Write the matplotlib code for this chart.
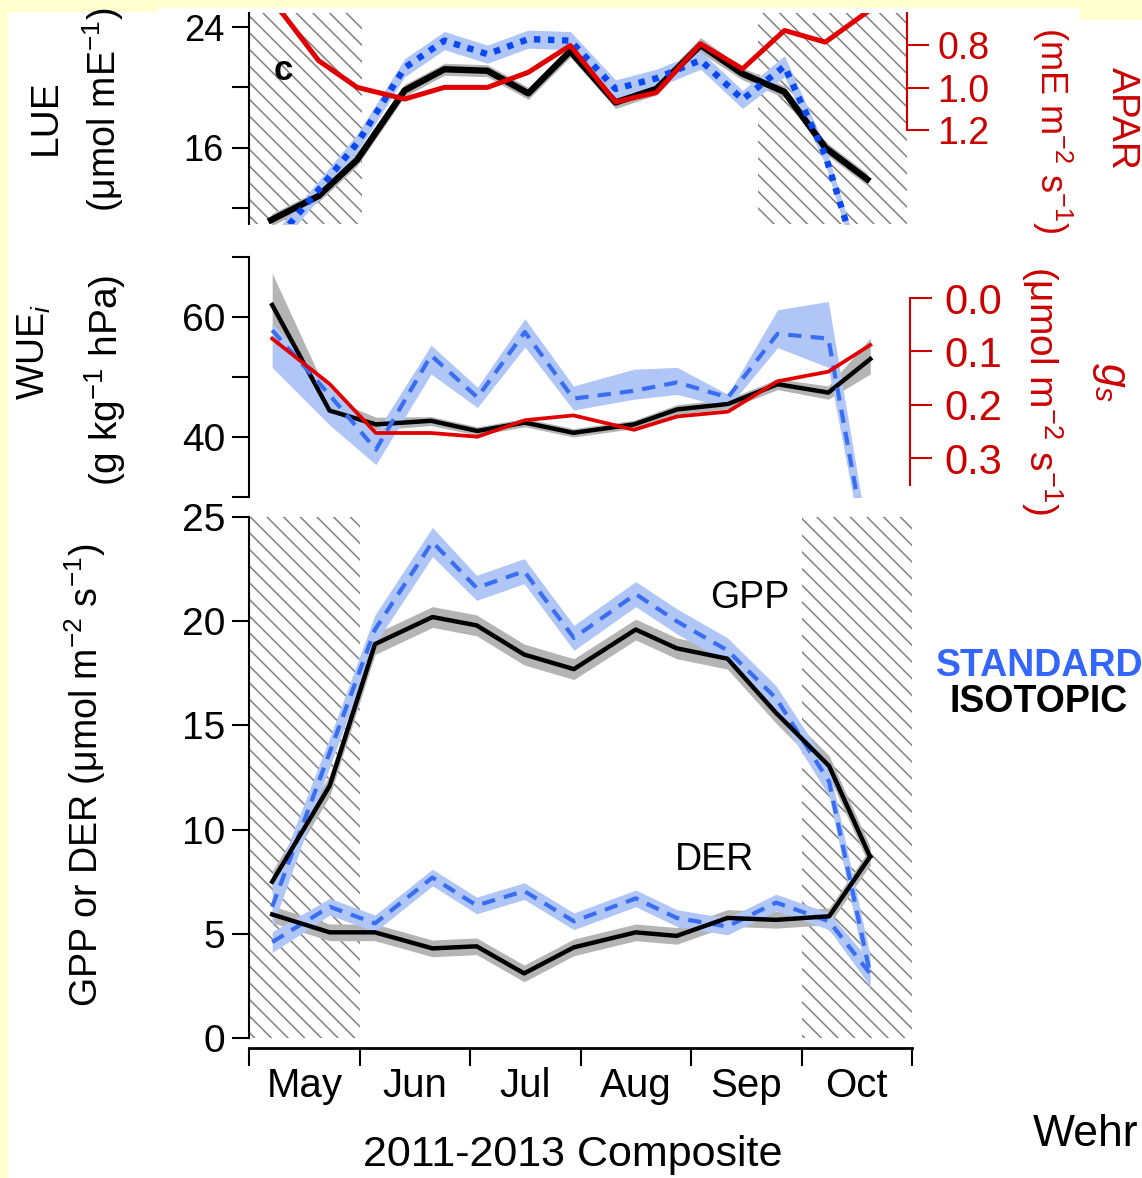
import matplotlib
matplotlib.use("Agg")
import matplotlib.pyplot as plt
from matplotlib.patches import Rectangle

plt.rcParams['font.family'] = ['Liberation Sans', 'DejaVu Sans']
plt.rcParams['mathtext.fontset'] = 'custom'
plt.rcParams['mathtext.rm'] = 'Liberation Sans'
plt.rcParams['mathtext.it'] = 'Liberation Sans:italic'
plt.rcParams['hatch.linewidth'] = 1.1
plt.rcParams['hatch.color'] = '#808080'

# ---- data (x in months after 1 May) ----
months = ['May', 'Jun', 'Jul', 'Aug', 'Sep', 'Oct']

# panel c: LUE and APAR
lue_t = [0.20, 0.63, 0.98, 1.41, 1.77, 2.16, 2.53, 2.91, 3.32, 3.69, 4.09, 4.47, 4.85, 5.22, 5.60]
lue_iso = [11.2, 12.8, 15.2, 19.8, 21.2, 21.1, 19.6, 22.4, 19.0, 19.9, 22.8, 20.9, 19.7, 16.0, 13.9]
lue_iso_err = [0.4, 0.4, 0.4, 0.4, 0.4, 0.4, 0.4, 0.4, 0.4, 0.4, 0.5, 0.4, 0.4, 0.4, 0.4]
lue_std = [9.5, 13.2, 16.3, 21.3, 23.1, 22.2, 23.2, 23.1, 19.9, 20.6, 21.8, 19.2, 21.4, 15.5, 6.5]
lue_std_err = [0.6, 0.6, 0.6, 0.6, 0.6, 0.6, 0.6, 0.6, 0.6, 0.6, 0.6, 0.6, 0.7, 0.6, 0.6]
apar = [0.58, 0.873, 0.999, 1.054, 0.999, 0.999, 0.928, 0.802, 1.068, 1.023, 0.794, 0.912, 0.731, 0.786, 0.644]

# WUEi and gs
wue_t = [0.21, 0.73, 1.15, 1.65, 2.07, 2.50, 2.94, 3.49, 3.88, 4.34, 4.79, 5.25, 5.63]
wue_iso = [62.0, 44.4, 42.1, 42.7, 41.0, 42.4, 40.7, 42.1, 44.6, 45.5, 48.8, 47.4, 53.0]
wue_iso_lo = [57.5, 43.0, 41.2, 41.9, 40.3, 41.7, 40.0, 41.4, 43.8, 44.7, 47.9, 46.3, 50.5]
wue_iso_hi = [67.3, 46.5, 43.3, 43.4, 41.7, 43.1, 41.4, 42.8, 45.4, 46.3, 49.7, 48.5, 56.5]
wue_std = [57.8, 47.0, 37.9, 53.6, 46.6, 57.5, 46.4, 47.7, 49.1, 46.6, 57.2, 56.4, 18.0]
wue_std_lo = [51.6, 42.0, 35.4, 50.5, 44.9, 55.0, 44.5, 46.3, 47.1, 44.9, 54.9, 51.6, 15.0]
wue_std_hi = [59.0, 48.3, 40.7, 55.3, 48.3, 59.7, 48.5, 51.3, 51.6, 47.1, 61.2, 62.6, 21.0]
gs = [0.076, 0.161, 0.253, 0.253, 0.260, 0.229, 0.220, 0.247, 0.222, 0.213, 0.156, 0.138, 0.088]

# GPP and DER
flux_t = [0.21, 0.73, 1.14, 1.66, 2.06, 2.49, 2.94, 3.50, 3.87, 4.33, 4.77, 5.25, 5.62]
gpp_iso = [7.5, 12.1, 18.9, 20.2, 19.8, 18.4, 17.7, 19.6, 18.7, 18.2, 15.6, 13.05, 8.7]
gpp_std = [6.3, 13.7, 19.6, 23.8, 21.6, 22.4, 19.2, 21.3, 20.0, 18.6, 16.3, 12.3, 3.1]
der_iso = [5.93, 5.07, 5.07, 4.3, 4.4, 3.1, 4.35, 5.07, 4.9, 5.76, 5.67, 5.84, 8.7]
der_std = [4.6, 6.3, 5.5, 7.7, 6.36, 7.05, 5.6, 6.7, 5.76, 5.35, 6.5, 5.6, 3.1]
gpp_iso_err = [0.5, 0.5, 0.5, 0.5, 0.5, 0.5, 0.5, 0.5, 0.5, 0.5, 0.5, 0.5, 0.5]
gpp_std_err = [1.0, 0.7, 0.7, 0.7, 0.6, 0.6, 0.6, 0.6, 0.6, 0.6, 0.6, 0.7, 0.9]
der_iso_err = [0.4, 0.4, 0.4, 0.4, 0.4, 0.4, 0.4, 0.4, 0.4, 0.4, 0.4, 0.4, 0.4]
der_std_err = [0.5, 0.4, 0.4, 0.4, 0.4, 0.4, 0.4, 0.4, 0.4, 0.4, 0.4, 0.4, 0.6]

RED = '#e00000'
RED_TXT = '#cc0000'
BLUE = '#3a6ef0'
BLUE_DOT = '#0a48f0'
BAND_B = '#afc6f7'
BAND_G = '#b4b4b4'

W, H = 1142, 1178
fig = plt.figure(figsize=(W / 100, H / 100), dpi=100, facecolor='#ffffd0')


def sheet(x0, y0, x1, y1):
    # white pieces pasted on the yellow slide (pixel coords from top-left)
    fig.patches.append(Rectangle((x0 / W, 1 - y1 / H), (x1 - x0) / W, (y1 - y0) / H,
                                 transform=fig.transFigure, facecolor='white',
                                 edgecolor='none', zorder=-10))


sheet(8, 12, 1080, 1178)
sheet(158, 8, 1080, 12)
sheet(1080, 20, 1142, 1178)


def box(x0, y0, x1, y1):
    return [x0 / W, 1 - y1 / H, (x1 - x0) / W, (y1 - y0) / H]


def band(ax, t, y, err, color):
    lo = [a - e for a, e in zip(y, err)]
    hi = [a + e for a, e in zip(y, err)]
    ax.fill_between(t, lo, hi, color=color, lw=0)


def hatch(ax, a, b):
    ax.axvspan(a, b, facecolor='none', edgecolor='#808080', hatch='\\\\', lw=0, zorder=0)


def clean(ax):
    for s in ['top', 'right', 'bottom']:
        ax.spines[s].set_visible(False)
    ax.spines['left'].set_linewidth(1.5)
    ax.set_xticks([])
    ax.patch.set_alpha(0)


def red_axis(ax, lo, hi, top, bot, ticks, size, pad):
    for s in ['top', 'left', 'bottom']:
        ax.spines[s].set_visible(False)
    ax.spines['right'].set_color(RED_TXT)
    ax.spines['right'].set_linewidth(1.5)
    ax.set_ylim(lo, hi)
    ax.spines['right'].set_bounds(top, bot)
    ax.set_yticks(ticks, labels=['%.1f' % v for v in ticks])
    ax.tick_params(axis='y', direction='out', length=16, width=1.5, labelsize=size,
                   colors=RED_TXT, pad=pad)


# ---------------- panel c: LUE ----------------
ax1 = fig.add_axes(box(249, 13, 907, 224))
clean(ax1)
ax1.set_xlim(0, 5.96)
ax1.set_ylim(10.94, 24.93)
hatch(ax1, 0, 1.02)
hatch(ax1, 4.61, 5.96)
band(ax1, lue_t, lue_iso, lue_iso_err, BAND_G)
band(ax1, lue_t, lue_std, lue_std_err, BAND_B)
ax1.plot(lue_t, lue_iso, color='black', lw=4.6)
ax1.plot(lue_t, lue_std, color=BLUE_DOT, lw=4.6, ls=(0, (1, 1.2)))
ax1.set_yticks([12, 16, 20, 24], labels=['', '16', '', '24'])
ax1.tick_params(axis='y', direction='out', length=12, width=1.5, labelsize=26, pad=6)

ax1r = ax1.twinx()
red_axis(ax1r, 1.642, 0.649, 0.649, 1.2, [0.8, 1.0, 1.2], 27, 6)
ax1r.plot(lue_t, apar, color=RED, lw=3.6)

# ---------------- WUEi ----------------
ax2 = fig.add_axes(box(249, 257, 910, 497))
clean(ax2)
ax2.set_xlim(0, 5.99)
ax2.set_ylim(30, 70)
ax2.fill_between(wue_t, wue_iso_lo, wue_iso_hi, color=BAND_G, lw=0)
ax2.fill_between(wue_t, wue_std_lo, wue_std_hi, color=BAND_B, lw=0)
ax2.plot(wue_t, wue_iso, color='black', lw=3.2)
ax2.plot(wue_t, wue_std, color=BLUE, lw=3.0, ls=(0, (3.2, 2.2)))
ax2.set_yticks([30, 40, 50, 60, 70], labels=['', '40', '', '60', ''])
ax2.tick_params(axis='y', direction='out', length=12, width=1.5, labelsize=28, pad=5)

ax2r = ax2.twinx()
red_axis(ax2r, 0.373, -0.077, 0.0, 0.35, [0.0, 0.1, 0.2, 0.3], 30, 9)
ax2r.plot(wue_t, gs, color=RED, lw=2.7)

# ---------------- GPP / DER ----------------
ax3 = fig.add_axes(box(249, 517, 912, 1038))
ax3.patch.set_alpha(0)
ax3.spines['top'].set_visible(False)
ax3.spines['right'].set_visible(False)
ax3.spines['left'].set_linewidth(1.5)
ax3.spines['bottom'].set_linewidth(2)
ax3.spines['bottom'].set_position(('outward', 7))
ax3.set_xlim(0, 6)
ax3.set_ylim(0, 25)
hatch(ax3, 0, 1)
hatch(ax3, 5, 6)
band(ax3, flux_t, gpp_iso, gpp_iso_err, BAND_G)
band(ax3, flux_t, der_iso, der_iso_err, BAND_G)
band(ax3, flux_t, gpp_std, gpp_std_err, BAND_B)
band(ax3, flux_t, der_std, der_std_err, BAND_B)
ax3.plot(flux_t, gpp_std, color=BLUE, lw=3.0, ls=(0, (3.2, 2.2)))
ax3.plot(flux_t, der_std, color=BLUE, lw=3.0, ls=(0, (3.2, 2.2)))
ax3.plot(flux_t, gpp_iso, color='black', lw=3.2)
ax3.plot(flux_t, der_iso, color='black', lw=3.2)
ax3.set_yticks([0, 5, 10, 15, 20, 25])
ax3.tick_params(axis='y', direction='out', length=12, width=1.5, labelsize=28, pad=5)
ax3.set_xticks(range(7), labels=[''] * 7)
ax3.set_xticks([i + 0.5 for i in range(6)], labels=months, minor=True)
ax3.tick_params(axis='x', which='major', direction='out', length=13, width=1.5)
ax3.tick_params(axis='x', which='minor', length=0, labelsize=29, pad=14)

# ---------------- text ----------------
fig.text(46 / W, 1 - 117 / H, 'LUE', rotation=90, ha='center', va='center', fontsize=28)
fig.text(103 / W, 1 - 110 / H, '(μmol mE$^{-1}$)', rotation=90, ha='center', va='center', fontsize=27)
fig.text(34 / W, 1 - 352 / H, 'WUE$_i$', rotation=90, ha='center', va='center', fontsize=27)
fig.text(105 / W, 1 - 380 / H, '(g kg$^{-1}$ hPa)', rotation=90, ha='center', va='center', fontsize=28)
fig.text(85 / W, 1 - 775 / H, 'GPP or DER (μmol m$^{-2}$ s$^{-1}$)', rotation=90,
         ha='center', va='center', fontsize=27)

fig.text(1122 / W, 1 - 118 / H, 'APAR', rotation=-90, ha='center', va='center',
         fontsize=28, color=RED_TXT)
fig.text(1052 / W, 1 - 130 / H, '(mE m$^{-2}$ s$^{-1}$)', rotation=-90, ha='center',
         va='center', fontsize=26, color=RED_TXT)
fig.text(1110 / W, 1 - 382 / H, '$g_s$', rotation=-90, ha='center', va='center',
         fontsize=31, color=RED_TXT)
fig.text(1042 / W, 1 - 390 / H, '(μmol m$^{-2}$ s$^{-1}$)', rotation=-90, ha='center',
         va='center', fontsize=28, color=RED_TXT)

fig.text(283 / W, 1 - 70 / H, 'c', ha='center', va='center', fontsize=25, fontweight='bold')
fig.text(750 / W, 1 - 598 / H, 'GPP', ha='center', va='center', fontsize=27)
fig.text(715 / W, 1 - 860 / H, 'DER', ha='center', va='center', fontsize=27)

fig.text(1040 / W, 1 - 666 / H, 'STANDARD', ha='center', va='center', fontsize=27,
         fontweight='bold', color='#3366ff')
fig.text(1039 / W, 1 - 702 / H, 'ISOTOPIC', ha='center', va='center', fontsize=27,
         fontweight='bold', color='black')

fig.text(573 / W, 1 - 1155 / H, '2011-2013 Composite', ha='center', va='center', fontsize=31)
fig.text(1033 / W, 1 - 1135 / H, 'Wehr', ha='left', va='center', fontsize=32)

fig.savefig('out.png', dpi=100, facecolor=fig.get_facecolor())
